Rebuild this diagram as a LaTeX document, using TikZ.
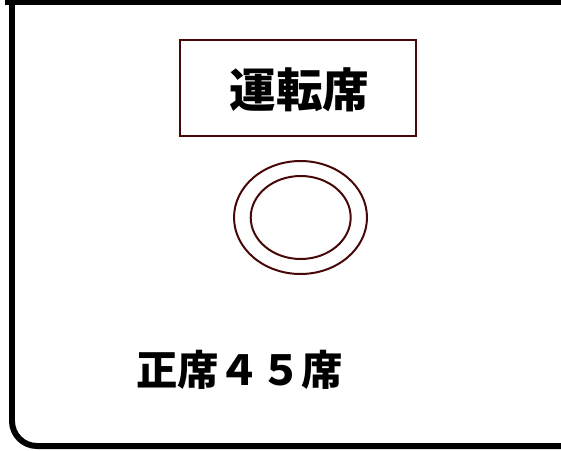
\documentclass[tikz,border=0pt]{standalone}
\usepackage{fontspec}
\newfontfamily\jpfont{Noto Sans CJK JP}
\RequirePackage{xcolor}
\definecolor{seatred}{RGB}{72,8,8}
\usetikzlibrary{shapes.geometric}
\tikzset{
  frameline/.style={line width=0.12cm, black},
  seatline/.style={line width=0.04cm, draw=seatred},
}

\begin{document}
\begin{tikzpicture}[x=0.02cm, y=-0.02cm]
  \useasboundingbox (0,0) rectangle (561,450);
  % outer frame of the car
  \draw [frameline] (5,1.5) -- (561,1.5);
  \draw [frameline, rounded corners=0.5cm] (12,-5) -- (12,446) -- (566,446);

  \node [seatline, minimum width=4.72cm, minimum height=1.92cm, inner sep=0] (driver) at (298,88) {};
  \node [font=\jpfont\bfseries\fontsize{26.5pt}{30pt}\selectfont] (drivertext) at (299.5,90) {運転席};

  % steering wheel
  \node [seatline, ellipse, minimum width=2.66cm, minimum height=2.26cm, inner sep=0] (wheelout) at (300.5,217.5) {};
  \node [seatline, ellipse, minimum width=2.0cm, minimum height=1.66cm, inner sep=0] (wheelin) at (300.7,217.5) {};

  \node [font=\jpfont\bfseries\fontsize{23.5pt}{28pt}\selectfont] (seats) at (239.5,370) {正席４５席};
\end{tikzpicture}
\end{document}
